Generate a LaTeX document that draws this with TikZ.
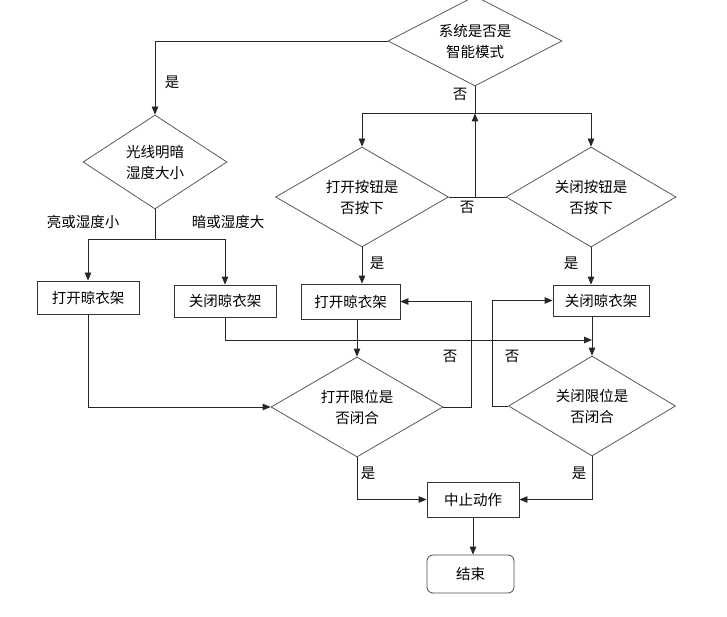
\documentclass[tikz,border=0pt]{standalone}
\usepackage{fontspec}
\setmainfont{Noto Sans CJK SC}
\usetikzlibrary{arrows.meta, shapes.geometric, calc}

\tikzset{
  decision/.style={diamond, draw=black!65, line width=0.8pt, aspect=1.7,
    inner sep=0pt, align=center},
  process/.style={rectangle, draw=black!80, line width=0.8pt, inner sep=0pt},
  terminal/.style={rectangle, rounded corners=6pt, draw=black!70, line width=0.8pt, inner sep=0pt},
  arr/.style={-{Triangle[length=8pt,width=6.5pt]}, line width=0.8pt, draw=black!85},
  ln/.style={line width=0.8pt, draw=black!85},
  lbl/.style={inner sep=0pt}
}

\begin{document}
\begin{tikzpicture}[x=1pt, y=-1pt, font=\fontsize{14.5}{21}\selectfont]
        \useasboundingbox (0,0) rectangle (727,617);

        % decisions
        \node[decision, minimum width=174pt, minimum height=90pt] (mode) at (475,41) {系统是否是\\智能模式};
        \node[decision, minimum width=144pt, minimum height=94pt] (light) at (155,162) {光线明暗\\湿度大小};
        \node[decision, minimum width=173pt, minimum height=100pt] (openbtn) at (362,197) {打开按钮是\\否按下};
        \node[decision, minimum width=170pt, minimum height=100pt] (closebtn) at (591,197) {关闭按钮是\\否按下};
        \node[decision, minimum width=172pt, minimum height=100pt] (openlim) at (357,407) {打开限位是\\否闭合};
        \node[decision, minimum width=167pt, minimum height=100pt] (closelim) at (592,406) {关闭限位是\\否闭合};

        % actions
        \node[process, minimum width=102pt, minimum height=33pt] (open1) at (88,297.5) {打开晾衣架};
        \node[process, minimum width=102pt, minimum height=32pt] (close1) at (225,301) {关闭晾衣架};
        \node[process, minimum width=99pt, minimum height=35pt] (open2) at (350.5,301.5) {打开晾衣架};
        \node[process, minimum width=96pt, minimum height=31pt] (close2) at (601,300.5) {关闭晾衣架};
        \node[process, minimum width=92pt, minimum height=35pt] (stop) at (473,499.5) {中止动作};
        \node[terminal, minimum width=87pt, minimum height=38pt] (end) at (470.5,574) {结束};

        % smart mode or not
        \draw[arr] (mode.west) -| (light.north);
        \draw[ln] (mode.south) -- ++(0,27) coordinate (split);
        \draw[arr] (split) -| (openbtn.north);
        \draw[arr] (split) -| (closebtn.north);
        \draw[ln] (openbtn.east) -- (closebtn.west);
        \draw[arr] (split |- openbtn.east) -- (split);

        % automatic branch
        \draw[ln] (light.south) -- ++(0,30) coordinate (lsplit);
        \draw[arr] (lsplit) -| (open1.north);
        \draw[arr] (lsplit) -| (close1.north);
        \draw[arr] (open1.south) |- (openlim.west);
        \coordinate (cjoin) at (closelim.north |- 0,340);
        \draw[arr] (close1.south) |- (cjoin);

        % manual branch
        \draw[arr] (openbtn.south) -- (openbtn.south |- open2.north);
        \draw[arr] (closebtn.south) -- (closebtn.south |- close2.north);
        \draw[arr] (openlim.north |- open2.south) -- (openlim.north);
        \draw[arr] (closelim.north |- close2.south) -- (closelim.north);
        \draw[arr] (openlim.east) -- ++(28,0) |- (open2.east);
        \draw[arr] (closelim.west) -- ++(-16,0) |- (close2.west);

        % stop
        \draw[arr] (openlim.south) |- (stop.west);
        \draw[arr] (closelim.south) |- (stop.east);
        \draw[arr] (stop.south) -- (stop.south |- end.north);

        % labels
        \node[lbl] (yes1) at (172,82) {是};
        \node[lbl] (no1) at (460,94) {否};
        \node[lbl] (bright) at (83,222) {亮或湿度小};
        \node[lbl] (dark) at (228,222) {暗或湿度大};
        \node[lbl] (no2) at (467,207) {否};
        \node[lbl] (yes2) at (377,263) {是};
        \node[lbl] (yes3) at (571,263) {是};
        \node[lbl] (no3) at (450,356) {否};
        \node[lbl] (no4) at (512,356) {否};
        \node[lbl] (yes4) at (368,473) {是};
        \node[lbl] (yes5) at (579,473) {是};
    \end{tikzpicture}
\end{document}
